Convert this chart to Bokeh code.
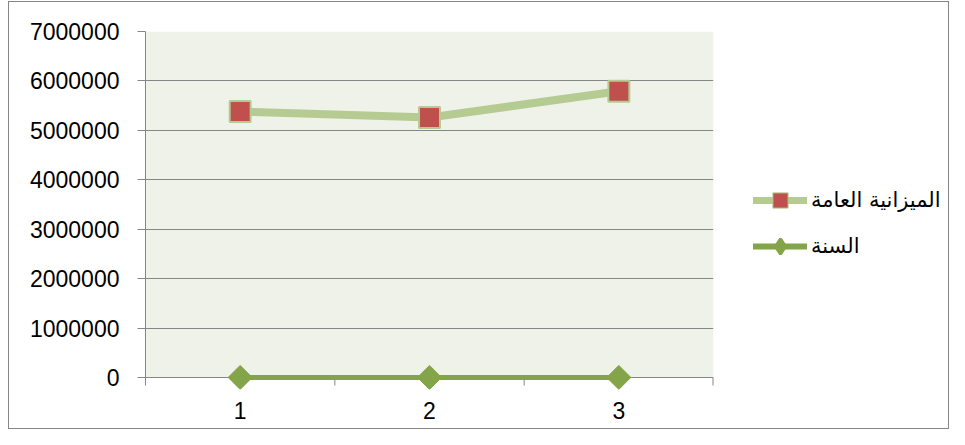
from bokeh.plotting import figure
from bokeh.layouts import row
from bokeh.models import FixedTicker, Legend, LegendItem, Range1d, BoxAnnotation
from bokeh.embed import file_html
from bokeh.resources import INLINE

# ---- data ----
categories = [1, 2, 3]
budget = [5380000, 5260000, 5790000]       # الميزانية العامة
years = [2010, 2011, 2012]                 # السنة
series_names = ["الميزانية العامة", "السنة"]
y_ticks = [0, 1000000, 2000000, 3000000, 4000000, 5000000, 6000000, 7000000]
y_tick_labels = ["0", "1000000", "2000000", "3000000", "4000000", "5000000", "6000000", "7000000"]
x_boundaries = [0.5, 1.5, 2.5, 3.5]

GRID = "#868686"
LIGHT_GREEN = "#B5CB92"
DARK_GREEN = "#84A449"
RED = "#C0504D"
BG = "#EFF2E9"
FONT = "Liberation Sans"

H = 429
W_MAIN = 730
W_LEG = 219
FRAME_TOP, ZERO_Y, FRAME_BOTTOM = 31, 377, 389
Y_MAX = 7000000
px_per_unit = (ZERO_Y - FRAME_TOP) / Y_MAX
y_start = -(FRAME_BOTTOM - ZERO_Y) / px_per_unit
tick_len = 8 / px_per_unit

g = "linear-gradient(#868686,#868686)"
main_css = ", ".join([
    f"{g} 8px 1px/{W_MAIN-8}px 1px no-repeat",
    f"{g} 8px 1px/1px {H-1}px no-repeat",
    f"{g} 8px {H-1}px/{W_MAIN-8}px 1px no-repeat",
    "white",
])
leg_css = ", ".join([
    f"{g} 0px 1px/{W_LEG}px 1px no-repeat",
    f"{g} {W_LEG-1}px 1px/1px {H-1}px no-repeat",
    f"{g} 0px {H-1}px/{W_LEG}px 1px no-repeat",
    "white",
])

p = figure(width=W_MAIN, height=H, output_backend="svg", toolbar_location=None,
           x_range=Range1d(0.5, 3.5), y_range=Range1d(y_start, Y_MAX),
           min_border_left=145, min_border_right=W_MAIN - 713,
           min_border_top=FRAME_TOP, min_border_bottom=H - FRAME_BOTTOM)
p.styles = {"background": main_css}
p.background_fill_color = None
p.border_fill_color = None
p.outline_line_color = None

# plot-area fill (from 0 up to the top)
p.add_layout(BoxAnnotation(left=0.5, right=3.5, bottom=0, top=Y_MAX,
                           fill_color=BG, fill_alpha=1, line_color=None, level="image"))

# y axis
p.yaxis.ticker = FixedTicker(ticks=y_ticks)
p.yaxis.major_label_overrides = {t: l for t, l in zip(y_ticks, y_tick_labels)}
p.yaxis.bounds = (-tick_len, Y_MAX)
p.yaxis.major_tick_out = 8
p.yaxis.major_tick_in = 0
p.yaxis.minor_tick_out = 0
p.yaxis.minor_tick_in = 0
p.yaxis.axis_line_color = GRID
p.yaxis.major_tick_line_color = GRID
p.yaxis.major_label_standoff = 18

# x axis: labels only; the zero line is the grid line at 0
p.xaxis.ticker = FixedTicker(ticks=categories)
p.xaxis.major_tick_out = 0
p.xaxis.major_tick_in = 0
p.xaxis.minor_tick_out = 0
p.xaxis.minor_tick_in = 0
p.xaxis.axis_line_color = None
p.xaxis.major_label_standoff = 12

for ax in (p.xaxis, p.yaxis):
    ax.major_label_text_font = FONT
    ax.major_label_text_font_size = "23px"
    ax.major_label_text_color = "black"

p.xgrid.grid_line_color = None
p.ygrid.ticker = FixedTicker(ticks=y_ticks)
p.ygrid.grid_line_color = GRID
p.ygrid.grid_line_width = 1

# category-boundary tick marks below the zero line
p.segment(x0=x_boundaries, y0=[0] * len(x_boundaries),
          x1=x_boundaries, y1=[-tick_len] * len(x_boundaries),
          line_color=GRID, line_width=[1, 1, 1, 2])

# series
p.line(categories, budget, line_color=LIGHT_GREEN, line_width=8, line_join="round")
p.scatter(categories, budget, marker="square", size=21, fill_color=RED,
          line_color=LIGHT_GREEN, line_width=2)
p.line(categories, years, line_color=DARK_GREEN, line_width=5)
p.scatter(categories, years, marker="square", angle=0.785398, size=17,
          fill_color=DARK_GREEN, line_color=DARK_GREEN, line_width=1)

# legend panel (swatch renderers sit outside the visible range)
q = figure(width=W_LEG, height=H, output_backend="svg", toolbar_location=None,
           x_range=Range1d(0, 1), y_range=Range1d(0, 1),
           x_axis_type=None, y_axis_type=None,
           min_border_left=0, min_border_right=0, min_border_top=0, min_border_bottom=0)
q.styles = {"background": leg_css}
q.background_fill_color = None
q.border_fill_color = None
q.outline_line_color = None
q.grid.visible = False

off = [-10]
lg1 = q.line(off, off, line_color=LIGHT_GREEN, line_width=7, line_cap="round")
mg1 = q.scatter(off, off, marker="square", size=15, fill_color=RED,
                line_color=LIGHT_GREEN, line_width=1)
lg2 = q.line(off, off, line_color=DARK_GREEN, line_width=6, line_cap="round")
mg2 = q.scatter(off, off, marker="diamond", size=17, fill_color=DARK_GREEN,
                line_color=DARK_GREEN, line_width=3)

legend = Legend(items=[LegendItem(label=series_names[0], renderers=[lg1, mg1]),
                       LegendItem(label=series_names[1], renderers=[lg2, mg2])],
                location=(23, 124), orientation="vertical",
                glyph_width=54, glyph_height=38, spacing=8, label_standoff=4,
                padding=0, margin=0, border_line_color=None, background_fill_alpha=0,
                label_text_font="DejaVu Sans", label_text_font_size="21px",
                label_text_color="black")
q.add_layout(legend, "center")

layout = row(p, q, spacing=0)
open("out.html", "w").write(file_html(layout, INLINE))
